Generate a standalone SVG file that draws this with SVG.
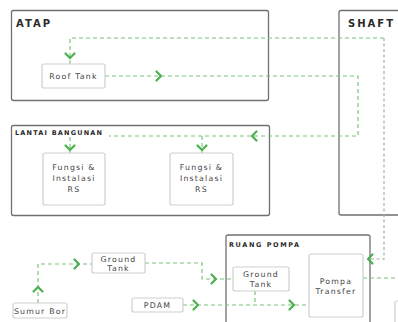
<svg xmlns="http://www.w3.org/2000/svg" width="398" height="322" viewBox="0 0 398 322">
<defs>
<style>
.zone{fill:none;stroke:#707070;stroke-width:1.3}
.node{fill:#fff;stroke:#cfcfcf;stroke-width:1.2}
.zt{font-family:"DejaVu Sans",sans-serif;font-weight:bold;fill:#2a2a2a}
.nt{font-family:"DejaVu Sans",sans-serif;font-size:7.8px;fill:#444;text-anchor:middle;letter-spacing:1.2px}
.dl{fill:none;stroke:#7cc47c;stroke-width:1.2;stroke-dasharray:4 3}
.sh{fill:none;stroke:#9bb89b;stroke-width:1.2;stroke-dasharray:3 2.5}
.ch{fill:none;stroke:#4caf50;stroke-width:2.2;stroke-linecap:round;stroke-linejoin:round}
</style>
</defs>
<rect width="398" height="322" fill="#fff"/>

<g id="zones">
<g id="atap"><rect class="zone" x="11.5" y="10.5" width="257" height="90" rx="2"/><text class="zt" x="16" y="27" font-size="10" letter-spacing="2">ATAP</text></g>
<g id="shaft"><rect class="zone" x="339" y="10.5" width="70" height="204.5" rx="2"/><text class="zt" x="348" y="27" font-size="10" letter-spacing="2">SHAFT</text></g>
<g id="lantai"><rect class="zone" x="11.5" y="125.5" width="258" height="90" rx="2"/></g>
<g id="ruang"><rect class="zone" x="226" y="235" width="144" height="100" rx="2"/></g>
</g>

<g id="connectors">
<path class="dl" d="M70 64 V38 H384"/>
<path class="sh" d="M384 38 V259 H368"/>
<path class="dl" d="M105 76 H358 V136 H70 V153"/>
<path class="dl" d="M202 136 V153"/>
<path class="dl" d="M363 278 H398"/>
<path class="dl" d="M38 303 V264 H92"/>
<path class="dl" d="M145 263 H202 V279 H233"/>
<path class="dl" d="M183 305 H309"/>
<path class="dl" d="M255 291 V305"/>
<path class="ch" d="M65.5 53.5 L70 58 L74.5 53.5"/>
<path class="ch" d="M156.5 71.5 L161 76 L156.5 80.5"/>
<path class="ch" d="M256.5 131.5 L252 136 L256.5 140.5"/>
<path class="ch" d="M65.5 145.5 L70 150 L74.5 145.5"/>
<path class="ch" d="M197.5 145.5 L202 150 L206.5 145.5"/>
<path class="ch" d="M372.5 254.5 L368 259 L372.5 263.5"/>
<path class="ch" d="M33.5 291.5 L38 287 L42.5 291.5"/>
<path class="ch" d="M74.5 259.5 L79 264 L74.5 268.5"/>
<path class="ch" d="M211.5 274.5 L216 279 L211.5 283.5"/>
<path class="ch" d="M193.5 300.5 L198 305 L193.5 309.5"/>
<path class="ch" d="M289.5 300.5 L294 305 L289.5 309.5"/>
</g>

<g id="lantai-label"><rect x="13" y="128" width="96" height="9" fill="#fff"/><text class="zt" x="15" y="135" font-size="6.5" letter-spacing="1.2">LANTAI BANGUNAN</text></g>
<g id="ruang-label"><text class="zt" x="229" y="247" font-size="6.5" letter-spacing="1.6">RUANG POMPA</text></g>

<g id="roof-tank"><rect class="node" x="42" y="64" width="63" height="24" rx="2"/><text class="nt" x="73.5" y="79">Roof Tank</text></g>
<g id="fungsi-1"><rect class="node" x="43" y="153" width="62" height="52" rx="2"/><text class="nt" x="74" y="170">Fungsi &amp;</text><text class="nt" x="74" y="181">Instalasi</text><text class="nt" x="74" y="192">RS</text></g>
<g id="fungsi-2"><rect class="node" x="170" y="153" width="63" height="52" rx="2"/><text class="nt" x="201.5" y="170">Fungsi &amp;</text><text class="nt" x="201.5" y="181">Instalasi</text><text class="nt" x="201.5" y="192">RS</text></g>
<g id="ground-tank-1"><rect class="node" x="92" y="253" width="53" height="20" rx="2"/><text class="nt" x="118.5" y="262">Ground</text><text class="nt" x="118.5" y="271">Tank</text></g>
<g id="sumur-bor"><rect class="node" x="13" y="303" width="54" height="15" rx="2"/><text class="nt" x="40" y="313.5" font-size="7">Sumur Bor</text></g>
<g id="pdam"><rect class="node" x="132" y="298" width="51" height="14" rx="2"/><text class="nt" x="157.5" y="308">PDAM</text></g>
<g id="ground-tank-2"><rect class="node" x="233" y="267" width="56" height="24" rx="2"/><text class="nt" x="261" y="277">Ground</text><text class="nt" x="261" y="287">Tank</text></g>
<g id="pompa-transfer"><rect class="node" x="309" y="254" width="54" height="63" rx="2"/><text class="nt" x="336" y="284">Pompa</text><text class="nt" x="336" y="294">Transfer</text></g>
<g id="node-edge"><rect class="node" x="395" y="301" width="20" height="30" rx="2"/></g>
</svg>
